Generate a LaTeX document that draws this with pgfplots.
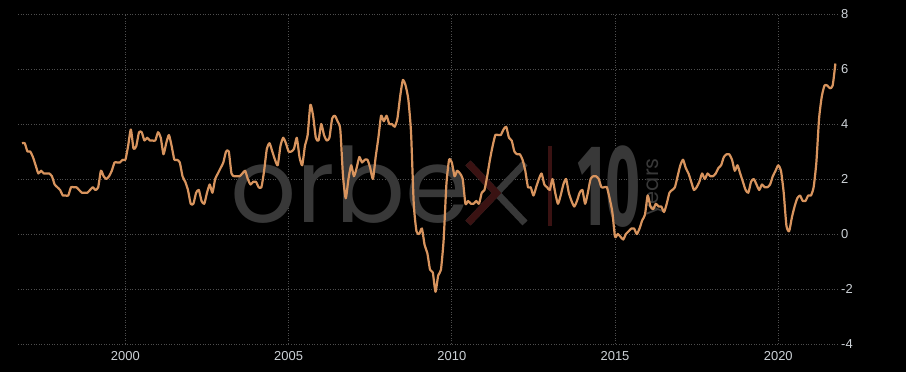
\documentclass[border=0pt]{standalone}
\usepackage{fontspec}
\usepackage{graphicx}
\usepackage{pgfplots}
\usepackage{pgfplotstable}
\pgfplotsset{compat=1.18}
\usetikzlibrary{backgrounds}
\setmainfont{Liberation Sans}
\newfontfamily\wmfont{Poppins}
\newfontfamily\wmnum{Fira Sans}
\definecolor{linec}{RGB}{216,148,94}
\definecolor{gridc}{RGB}{78,78,78}
\definecolor{wm}{RGB}{56,56,56}
\definecolor{wmred}{RGB}{58,18,18}
\definecolor{tickc}{RGB}{205,210,215}

\pgfplotstableread{
yr mo v
1996 11 3.3
1996 12 3.3
1997 1 3.0
1997 2 3.0
1997 3 2.8
1997 4 2.5
1997 5 2.2
1997 6 2.3
1997 7 2.2
1997 8 2.2
1997 9 2.2
1997 10 2.1
1997 11 1.8
1997 12 1.7
1998 1 1.6
1998 2 1.4
1998 3 1.4
1998 4 1.4
1998 5 1.7
1998 6 1.7
1998 7 1.7
1998 8 1.6
1998 9 1.5
1998 10 1.5
1998 11 1.5
1998 12 1.6
1999 1 1.7
1999 2 1.6
1999 3 1.7
1999 4 2.3
1999 5 2.1
1999 6 2.0
1999 7 2.1
1999 8 2.3
1999 9 2.6
1999 10 2.6
1999 11 2.6
1999 12 2.7
2000 1 2.7
2000 2 3.2
2000 3 3.8
2000 4 3.1
2000 5 3.2
2000 6 3.7
2000 7 3.7
2000 8 3.4
2000 9 3.5
2000 10 3.4
2000 11 3.4
2000 12 3.4
2001 1 3.7
2001 2 3.5
2001 3 2.9
2001 4 3.3
2001 5 3.6
2001 6 3.2
2001 7 2.7
2001 8 2.7
2001 9 2.6
2001 10 2.1
2001 11 1.9
2001 12 1.6
2002 1 1.1
2002 2 1.1
2002 3 1.5
2002 4 1.6
2002 5 1.2
2002 6 1.1
2002 7 1.5
2002 8 1.8
2002 9 1.5
2002 10 2.0
2002 11 2.2
2002 12 2.4
2003 1 2.6
2003 2 3.0
2003 3 3.0
2003 4 2.2
2003 5 2.1
2003 6 2.1
2003 7 2.1
2003 8 2.2
2003 9 2.3
2003 10 2.0
2003 11 1.8
2003 12 1.9
2004 1 1.9
2004 2 1.7
2004 3 1.7
2004 4 2.3
2004 5 3.1
2004 6 3.3
2004 7 3.0
2004 8 2.7
2004 9 2.5
2004 10 3.2
2004 11 3.5
2004 12 3.3
2005 1 3.0
2005 2 3.0
2005 3 3.1
2005 4 3.5
2005 5 2.8
2005 6 2.5
2005 7 3.2
2005 8 3.6
2005 9 4.7
2005 10 4.3
2005 11 3.5
2005 12 3.4
2006 1 4.0
2006 2 3.6
2006 3 3.4
2006 4 3.5
2006 5 4.2
2006 6 4.3
2006 7 4.1
2006 8 3.8
2006 9 2.1
2006 10 1.3
2006 11 2.0
2006 12 2.5
2007 1 2.1
2007 2 2.4
2007 3 2.8
2007 4 2.6
2007 5 2.7
2007 6 2.7
2007 7 2.4
2007 8 2.0
2007 9 2.8
2007 10 3.5
2007 11 4.3
2007 12 4.1
2008 1 4.3
2008 2 4.0
2008 3 4.0
2008 4 3.9
2008 5 4.2
2008 6 5.0
2008 7 5.6
2008 8 5.4
2008 9 4.9
2008 10 3.7
2008 11 1.1
2008 12 0.1
2009 1 0.0
2009 2 0.2
2009 3 -0.4
2009 4 -0.7
2009 5 -1.3
2009 6 -1.4
2009 7 -2.1
2009 8 -1.5
2009 9 -1.3
2009 10 -0.2
2009 11 1.8
2009 12 2.7
2010 1 2.6
2010 2 2.1
2010 3 2.3
2010 4 2.2
2010 5 2.0
2010 6 1.1
2010 7 1.2
2010 8 1.1
2010 9 1.1
2010 10 1.2
2010 11 1.1
2010 12 1.5
2011 1 1.6
2011 2 2.1
2011 3 2.7
2011 4 3.2
2011 5 3.6
2011 6 3.6
2011 7 3.6
2011 8 3.8
2011 9 3.9
2011 10 3.5
2011 11 3.4
2011 12 3.0
2012 1 2.9
2012 2 2.9
2012 3 2.7
2012 4 2.3
2012 5 1.7
2012 6 1.7
2012 7 1.4
2012 8 1.7
2012 9 2.0
2012 10 2.2
2012 11 1.8
2012 12 1.7
2013 1 1.6
2013 2 2.0
2013 3 1.5
2013 4 1.1
2013 5 1.4
2013 6 1.8
2013 7 2.0
2013 8 1.5
2013 9 1.2
2013 10 1.0
2013 11 1.2
2013 12 1.5
2014 1 1.6
2014 2 1.1
2014 3 1.5
2014 4 2.0
2014 5 2.1
2014 6 2.1
2014 7 2.0
2014 8 1.7
2014 9 1.7
2014 10 1.7
2014 11 1.3
2014 12 0.8
2015 1 -0.1
2015 2 0.0
2015 3 -0.1
2015 4 -0.2
2015 5 0.0
2015 6 0.1
2015 7 0.2
2015 8 0.2
2015 9 0.0
2015 10 0.2
2015 11 0.5
2015 12 0.7
2016 1 1.4
2016 2 1.0
2016 3 0.9
2016 4 1.1
2016 5 1.0
2016 6 1.0
2016 7 0.8
2016 8 1.1
2016 9 1.5
2016 10 1.6
2016 11 1.7
2016 12 2.1
2017 1 2.5
2017 2 2.7
2017 3 2.4
2017 4 2.2
2017 5 1.9
2017 6 1.6
2017 7 1.7
2017 8 1.9
2017 9 2.2
2017 10 2.0
2017 11 2.2
2017 12 2.1
2018 1 2.1
2018 2 2.2
2018 3 2.4
2018 4 2.5
2018 5 2.8
2018 6 2.9
2018 7 2.9
2018 8 2.7
2018 9 2.3
2018 10 2.5
2018 11 2.2
2018 12 1.9
2019 1 1.6
2019 2 1.5
2019 3 1.9
2019 4 2.0
2019 5 1.8
2019 6 1.6
2019 7 1.8
2019 8 1.7
2019 9 1.7
2019 10 1.8
2019 11 2.1
2019 12 2.3
2020 1 2.5
2020 2 2.3
2020 3 1.5
2020 4 0.3
2020 5 0.1
2020 6 0.6
2020 7 1.0
2020 8 1.3
2020 9 1.4
2020 10 1.2
2020 11 1.2
2020 12 1.4
2021 1 1.4
2021 2 1.7
2021 3 2.6
2021 4 4.2
2021 5 5.0
2021 6 5.4
2021 7 5.4
2021 8 5.3
2021 9 5.4
2021 10 6.2
}\cpidata

\begin{document}
\begin{tikzpicture}[show background rectangle,
  background rectangle/.style={fill=black, draw=none},
  inner frame sep=0pt]
\begin{axis}[
  scale only axis,
  width=820bp, height=330bp,
  xmin=1996.71, xmax=2021.83,
  ymin=-4, ymax=8,
  clip=false,
  axis line style={draw=none},
  major tick length=0pt,
  xtick={2000,2005,2010,2015,2020},
  ytick={-4,-2,0,2,4,6,8},
  ytick pos=right, yticklabel pos=right,
  grid=major,
  major grid style={gridc, line width=0.8bp, dash pattern=on 1bp off 1.6bp},
  /pgf/number format/assume math mode=true,
  xticklabel style={/pgf/number format/1000 sep=, font=\fontsize{13}{13}\selectfont, text=tickc, inner sep=0pt, anchor=north, yshift=-7bp},
  yticklabel style={font=\fontsize{13}{13}\selectfont, text=tickc, inner sep=0pt, anchor=west, xshift=3bp},
]
% fixed picture extent
\path ([xshift=-18bp,yshift=-28bp]rel axis cs:0,0) rectangle ([xshift=68bp,yshift=14bp]rel axis cs:1,1);
% watermark
\node[anchor=base west, inner sep=0pt, text=wm, font=\wmfont\fontsize{104}{104}\selectfont] at (axis cs:2003.21,0.436) {orbe};
\draw[wm, line width=7bp] (axis cs:2010.496,2.582) -- (axis cs:2012.242,0.40);
\draw[wm, line width=7bp] (axis cs:2010.496,0.40) -- (axis cs:2012.242,2.582);
\draw[wmred, line width=7bp, line join=miter] (axis cs:2010.496,2.582) -- (axis cs:2011.369,1.491) -- (axis cs:2010.496,0.40);
\draw[wmred, line width=3.8bp] (axis cs:2013.007,3.2) -- (axis cs:2013.007,0.291);
\node[anchor=base west, inner sep=0pt, text=wm, font=\wmnum\bfseries\fontsize{116}{116}\selectfont] at (axis cs:2013.84,0.291) {\scalebox{0.52}[1]{10}};
\node[rotate=90, inner sep=0pt, text=wm, font=\wmfont\fontsize{21}{21}\selectfont] at (axis cs:2016.23,1.71) {years};
% data
\addplot[linec, line width=2.2bp, line join=round, smooth, tension=0.35, mark=none] table[x expr=\thisrow{yr}+(\thisrow{mo}-1)/12, y=v] {\cpidata};
\end{axis}
\end{tikzpicture}
\end{document}
